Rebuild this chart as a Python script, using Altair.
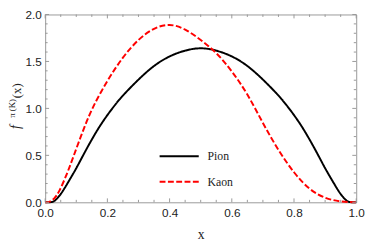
import altair as alt
import pandas as pd

# ---- data ----
series = ["Pion", "Kaon"]

pion_x = [0, 0.02, 0.03, 0.05, 0.075, 0.1, 0.125, 0.15, 0.175, 0.2, 0.225, 0.25, 0.3, 0.35,
          0.4, 0.45, 0.5, 0.55, 0.6, 0.65, 0.7, 0.75, 0.775, 0.8, 0.825, 0.85, 0.875, 0.9,
          0.925, 0.95, 0.97, 0.98, 1.0]
pion_y = [0, 0, 0.01, 0.08, 0.22, 0.36, 0.52, 0.67, 0.81, 0.93, 1.04, 1.14, 1.31, 1.46,
          1.56, 1.62, 1.65, 1.62, 1.56, 1.46, 1.31, 1.14, 1.04, 0.93, 0.81, 0.67, 0.52, 0.36,
          0.22, 0.08, 0.01, 0, 0]

kaon_x = [0, 0.015, 0.03, 0.045, 0.07, 0.09, 0.12, 0.15, 0.2, 0.25, 0.3, 0.35, 0.4, 0.45,
          0.5, 0.55, 0.6, 0.65, 0.7, 0.75, 0.8, 0.85, 0.9, 0.95, 1.0]
kaon_y = [0, 0, 0.04, 0.11, 0.3, 0.48, 0.75, 1.0, 1.3, 1.55, 1.74, 1.86, 1.905, 1.85,
          1.73, 1.6, 1.4, 1.16, 0.84, 0.55, 0.31, 0.13, 0.04, 0.005, 0]

x_major = [0.0, 0.2, 0.4, 0.6, 0.8, 1.0]
x_minor = [0.05, 0.1, 0.15, 0.25, 0.3, 0.35, 0.45, 0.5, 0.55, 0.65, 0.7, 0.75, 0.85, 0.9, 0.95]
y_major = [0.0, 0.5, 1.0, 1.5, 2.0]
y_minor = [0.1, 0.2, 0.3, 0.4, 0.6, 0.7, 0.8, 0.9, 1.1, 1.2, 1.3, 1.4, 1.6, 1.7, 1.8, 1.9]

colors = ["#000000", "#ff0000"]
dashes = [[1, 0], [6, 2.5]]

# ---- layout ----
W, H = 318, 192
TICK_C = "#999999"
SANS = "Liberation Sans, Arial, sans-serif"
SERIF = "Times New Roman, Liberation Serif, serif"

df = pd.concat([
    pd.DataFrame({"x": pion_x, "y": pion_y, "series": series[0]}),
    pd.DataFrame({"x": kaon_x, "y": kaon_y, "series": series[1]}),
])

xs = alt.Scale(domain=[0, 1], nice=False, zero=False)
ys = alt.Scale(domain=[0, 2], nice=False, zero=False)

x_axis = alt.Axis(values=x_major, format=".1f", ticks=False, domain=False, grid=False,
                  labelPadding=6, labelFlush=False, labelFont=SANS, labelFontSize=12,
                  labelColor="#222", title="x", titleFont=SERIF, titleFontSize=14,
                  titleFontWeight="normal", titleColor="#222", titlePadding=9)
y_axis = alt.Axis(values=y_major, format=".1f", ticks=False, domain=False, grid=False,
                  labelPadding=4, labelFont=SANS, labelFontSize=12, labelColor="#222",
                  title=None)

lines = alt.Chart(df).mark_line(strokeWidth=2, interpolate="basis").encode(
    x=alt.X("x:Q", scale=xs, axis=x_axis),
    y=alt.Y("y:Q", scale=ys, axis=y_axis),
    color=alt.Color("series:N", scale=alt.Scale(domain=series, range=colors), legend=None),
    strokeDash=alt.StrokeDash("series:N", scale=alt.Scale(domain=series, range=dashes), legend=None),
)

def xticks(vals, length, top):
    d = pd.DataFrame({"x": vals})
    if top:
        enc = dict(y=alt.value(0), y2=alt.value(length))
    else:
        enc = dict(y=alt.value(H), y2=alt.value(H - length))
    return alt.Chart(d).mark_rule(color=TICK_C, strokeWidth=1).encode(
        x=alt.X("x:Q", scale=xs), **enc)

def yticks(vals, length, right):
    d = pd.DataFrame({"y": vals})
    if right:
        enc = dict(x=alt.value(W), x2=alt.value(W - length))
    else:
        enc = dict(x=alt.value(0), x2=alt.value(length))
    return alt.Chart(d).mark_rule(color=TICK_C, strokeWidth=1).encode(
        y=alt.Y("y:Q", scale=ys), **enc)

ticks = [
    xticks(x_major, 4, False), xticks(x_minor, 2.5, False),
    xticks(x_major, 4, True), xticks(x_minor, 2.5, True),
    yticks(y_major, 4, False), yticks(y_minor, 2.5, False),
    yticks(y_major, 4, True), yticks(y_minor, 2.5, True),
]

one = pd.DataFrame({"a": [0]})

# y-axis title: f^{π (K)}(x), built from three rotated text pieces
ytitle = [
    alt.Chart(one).mark_text(text="f", font=SERIF, fontSize=14, fontStyle="italic",
                             angle=270, align="center", baseline="middle", color="#222")
    .encode(x=alt.value(-30), y=alt.value(115)),
    alt.Chart(one).mark_text(text="π (K)", font=SERIF, fontSize=9,
                             angle=270, align="center", baseline="middle", color="#222")
    .encode(x=alt.value(-34), y=alt.value(96)),
    alt.Chart(one).mark_text(text="(x)", font=SERIF, fontSize=13,
                             angle=270, align="center", baseline="middle", color="#222")
    .encode(x=alt.value(-29), y=alt.value(78)),
]

# legend inside the plot
legend = []
for i, name in enumerate(series):
    ly = 145 + 26 * i
    legend.append(
        alt.Chart(one).mark_rule(color=colors[i], strokeWidth=2, strokeDash=dashes[i])
        .encode(x=alt.value(117), x2=alt.value(157), y=alt.value(ly))
    )
    legend.append(
        alt.Chart(one).mark_text(text=name, font=SERIF, fontSize=12, align="left",
                                 baseline="middle", color="#222")
        .encode(x=alt.value(166), y=alt.value(ly))
    )

chart = alt.layer(lines, *ticks, *ytitle, *legend).properties(
    width=W, height=H,
    autosize=alt.AutoSizeParams(type="none"),
    padding={"left": 38, "top": 4, "right": 10, "bottom": 40},
).configure_view(stroke="#999999", strokeWidth=1)

chart.save("out.html", embed_options={"renderer": "svg", "actions": False})
